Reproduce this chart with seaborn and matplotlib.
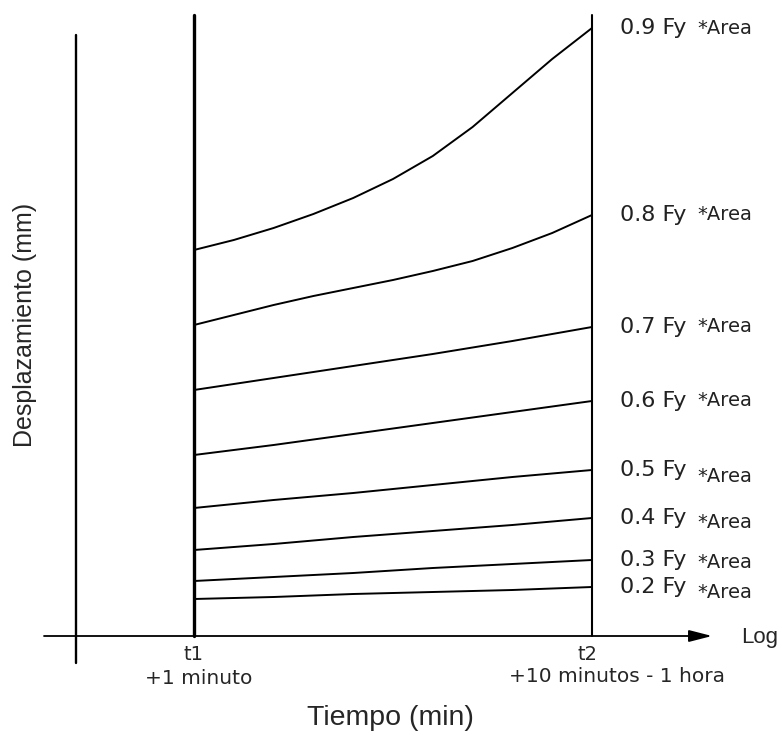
import matplotlib
matplotlib.use("Agg")
import matplotlib.pyplot as plt
import numpy as np
import pandas as pd
import seaborn as sns

# ---- data (schematic, arbitrary units) ----
time_fine = [0.0, 0.1, 0.2, 0.3, 0.4, 0.5, 0.6, 0.7, 0.8, 0.9, 1.0]   # normalised log-time t1..t2
time_coarse = [0.0, 0.2, 0.4, 0.6, 0.8, 1.0]
loads = ["0.9", "0.8", "0.7", "0.6", "0.5", "0.4", "0.3", "0.2"]
disp_09 = [386, 396, 408, 422, 438, 457, 480, 509, 543, 577, 608]
disp_08 = [311, 321, 331, 340, 348, 356, 365, 375, 388, 403, 421]
disp_07 = [246, 258, 270, 282, 295, 309]
disp_06 = [181, 191, 202, 213, 224, 235]
disp_05 = [128, 136, 143, 151, 159, 166]
disp_04 = [86, 92, 99, 105, 111, 118]
disp_03 = [55, 59, 63, 68, 72, 76]
disp_02 = [37, 39, 42, 44, 46, 49]
all_disp = [disp_09, disp_08, disp_07, disp_06, disp_05, disp_04, disp_03, disp_02]
all_time = [time_fine, time_fine] + [time_coarse] * 6
area_offsets = [0, 0, 0, 0, -7, -5, -3, -6]

rows = []
for ld, ts, d in zip(loads, all_time, all_disp):
    for t, v in zip(ts, d):
        rows.append({"t": t, "disp": v, "load": ld})
df = pd.DataFrame(rows)

sns.set_style("white")
plt.rcParams["font.family"] = ["DejaVu Sans"]

fig = plt.figure(figsize=(7.82, 7.40), dpi=100)
ax = fig.add_axes([0, 0, 1, 1])

# pixel helpers for layout (x: t1 at 194px, t2 at 592px; y: axis at 636px)
def px(x):
    return (x - 194) / 398.0

def py(y):
    return 636 - y

sns.lineplot(data=df, x="t", y="disp", hue="load", palette=["black"] * len(loads),
             legend=False, linewidth=1.4, ax=ax, estimator=None)

# vertical lines
ax.plot([px(76), px(76)], [py(35), py(663)], color="black", lw=1.7)
ax.plot([0, 0], [py(15), 0], color="black", lw=2.4)
ax.plot([1, 1], [py(15), 0], color="black", lw=1.5)

# horizontal time axis with arrow
ax.annotate("", xy=(px(712), 0), xytext=(px(44), 0),
            arrowprops=dict(arrowstyle="-|>,head_length=0.7,head_width=0.18",
                            mutation_scale=20, lw=1.3, color="black",
                            shrinkA=0, shrinkB=0))

# right-hand labels
for ld, d, off in zip(loads, all_disp, area_offsets):
    ax.text(px(620), d[-1], f"{ld} Fy", fontsize=16, ha="left", va="center", color="#222222")
    ax.text(px(697), d[-1] + off, "*Area", fontsize=14, ha="left", va="center", color="#222222")

ax.text(px(194), py(655), "t1", fontsize=14, ha="center", va="center")
ax.text(px(199), py(679), "+1 minuto", fontsize=14.5, ha="center", va="center")
ax.text(px(588), py(654), "t2", fontsize=14, ha="center", va="center")
ax.text(px(617), py(677), "+10 minutos - 1 hora", fontsize=14.5, ha="center", va="center")
ax.text(px(741), py(637), "Log", fontsize=16, ha="left", va="center",
        family=["Liberation Sans", "DejaVu Sans"])
ax.text(px(390), py(718), "Tiempo (min)", fontsize=20.5, ha="center", va="center",
        family=["Liberation Sans", "DejaVu Sans"])
ax.text(px(25), py(325), "Desplazamiento (mm)", fontsize=18, ha="center", va="center",
        rotation=90, family=["Liberation Sans", "DejaVu Sans"])

ax.set_xlim(px(0), px(782))
ax.set_ylim(py(740), py(0))
ax.axis("off")

fig.savefig("out.png", dpi=100, facecolor="white")
